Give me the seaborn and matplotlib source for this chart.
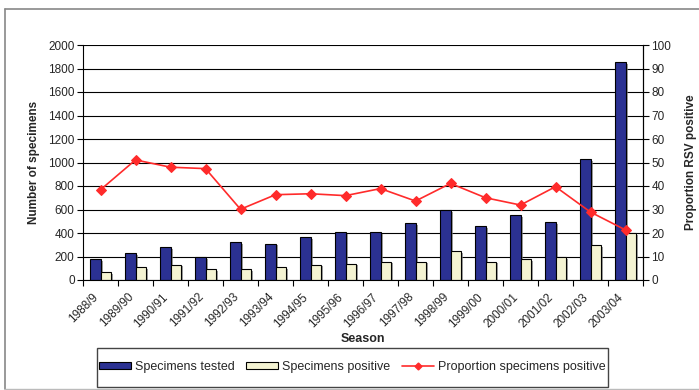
import numpy as np
import pandas as pd
import matplotlib
matplotlib.use("Agg")
import matplotlib.pyplot as plt
import matplotlib.patheffects as pe
from matplotlib.lines import Line2D
from matplotlib.patches import Patch, Rectangle
from matplotlib.transforms import ScaledTranslation
import seaborn as sns

# RSV surveillance by season
seasons = ["1988/9", "1989/90", "1990/91", "1991/92", "1992/93", "1993/94",
           "1994/95", "1995/96", "1996/97", "1997/98", "1998/99", "1999/00",
           "2000/01", "2001/02", "2002/03", "2003/04"]
tested = [180, 230, 280, 195, 320, 310, 365, 405, 405, 485, 595, 460,
          550, 495, 1030, 1855]
positive = [65, 110, 130, 94, 94, 110, 130, 139, 156, 156, 247, 156,
            179, 193, 298, 397]
proportion = [38.4, 51.1, 48.0, 47.4, 30.1, 36.3, 36.7, 35.9, 38.9, 33.6,
              41.1, 35.0, 31.9, 39.7, 28.9, 21.3]

series_names = ["Specimens tested", "Specimens positive",
                "Proportion specimens positive"]
left_ticks = list(range(0, 2001, 200))
right_ticks = list(range(0, 101, 10))

navy = "#2B3192"
cream = "#F4F3D2"
red = "#FF2B2B"

sns.set_theme(style="white")
plt.rcParams["font.family"] = ["Liberation Sans", "DejaVu Sans"]

bars = pd.DataFrame({
    "season": seasons * 2,
    "count": tested + positive,
    "series": [series_names[0]] * len(seasons) + [series_names[1]] * len(seasons),
})
line = pd.DataFrame({"season": seasons, "pct": proportion})

fig = plt.figure(figsize=(6.99, 3.90), dpi=100)
ax = fig.add_axes([83 / 699, 110 / 390, 560 / 699, 235 / 390])

sns.barplot(data=bars, x="season", y="count", hue="series",
            order=seasons, hue_order=series_names[:2],
            palette=[navy, cream], width=0.62, gap=0,
            edgecolor="black", linewidth=0.8, saturation=1,
            legend=False, ax=ax)
for p in ax.patches:
    p.set_path_effects([pe.SimplePatchShadow(offset=(1.5, -1.2),
                                             shadow_rgbFace="#777777",
                                             alpha=0.7),
                        pe.Normal()])

ax.set_ylim(0, 2000)
ax.set_xlim(-0.5, len(seasons) - 0.5)
ax.set_yticks(left_ticks)
ax.set_yticklabels([str(t) for t in left_ticks], fontsize=8.5)
ax.yaxis.grid(True, color="black", linewidth=0.8)
ax.set_axisbelow(True)
ax.tick_params(axis="y", which="major", direction="out", length=4,
               width=0.8, color="black", pad=2, left=True)

# category labels at centres, tick marks on the boundaries
ax.set_xticks(range(len(seasons)))
ax.set_xticklabels(seasons, fontsize=8.5, rotation=45, ha="right",
                   va="center", rotation_mode="anchor")
ax.tick_params(axis="x", which="major", length=0, pad=11)
ax.set_xticks(np.arange(-0.5, len(seasons), 1.0), minor=True)
ax.tick_params(axis="x", which="minor", direction="out", length=4,
               width=0.8, color="black", bottom=True)
shift = ScaledTranslation(-4 / 100, 0, fig.dpi_scale_trans)
for lbl in ax.get_xticklabels():
    lbl.set_transform(lbl.get_transform() + shift)

ax.set_xlabel("Season", fontsize=9, fontweight="bold", labelpad=2)
ax.set_ylabel("Number of specimens", fontsize=8.5, fontweight="bold",
              labelpad=6)

for side in ["left", "bottom", "right"]:
    ax.spines[side].set_color("black")
    ax.spines[side].set_linewidth(0.8)
ax.spines["top"].set_visible(False)

ax2 = ax.twinx()
sns.lineplot(data=line, x="season", y="pct", color=red, linewidth=1.2,
             marker="D", markersize=5.5, markeredgecolor=red, sort=False,
             ax=ax2, legend=False)
ax2.set_ylim(0, 100)
ax2.set_yticks(right_ticks)
ax2.set_yticklabels([str(t) for t in right_ticks], fontsize=8.5)
ax2.tick_params(axis="y", direction="out", length=4, width=0.8,
                color="black", pad=2, right=True)
ax2.set_ylabel("Proportion RSV positive", fontsize=8.5, fontweight="bold",
               labelpad=10)
ax2.grid(False)
for side in ["top", "left", "bottom"]:
    ax2.spines[side].set_visible(False)
ax2.spines["right"].set_color("black")
ax2.spines["right"].set_linewidth(0.8)

handles = [
    Patch(facecolor=navy, edgecolor="black", linewidth=0.8, label=series_names[0]),
    Patch(facecolor=cream, edgecolor="black", linewidth=0.8, label=series_names[1]),
    Line2D([0], [0], color=red, linewidth=1.2, marker="D", markersize=3.5,
           label=series_names[2]),
]
fig.legend(handles=handles, loc="center",
           bbox_to_anchor=(352 / 699, 1 - 367 / 390), ncol=3,
           fontsize=9, frameon=False,
           handlelength=2.6, handleheight=0.55, handletextpad=0.3,
           columnspacing=0.9, borderpad=0.2)
# legend frame
fig.add_artist(Rectangle((97 / 699, 1 - 387 / 390), 511 / 699, 39 / 390,
                         transform=fig.transFigure, fill=False,
                         edgecolor="#444444", linewidth=1.0))

# outer chart frame
fig.add_artist(Line2D([5 / 699, 5 / 699], [1 - 389 / 390, 1 - 9 / 390],
                      transform=fig.transFigure, color="#888888", linewidth=1.2))
fig.add_artist(Line2D([5 / 699, 1], [1 - 9 / 390, 1 - 9 / 390],
                      transform=fig.transFigure, color="#888888", linewidth=1.2))
fig.add_artist(Line2D([5 / 699, 1], [1 - 389 / 390, 1 - 389 / 390],
                      transform=fig.transFigure, color="#BBBBBB", linewidth=1.0))

fig.savefig("out.png", dpi=100)
